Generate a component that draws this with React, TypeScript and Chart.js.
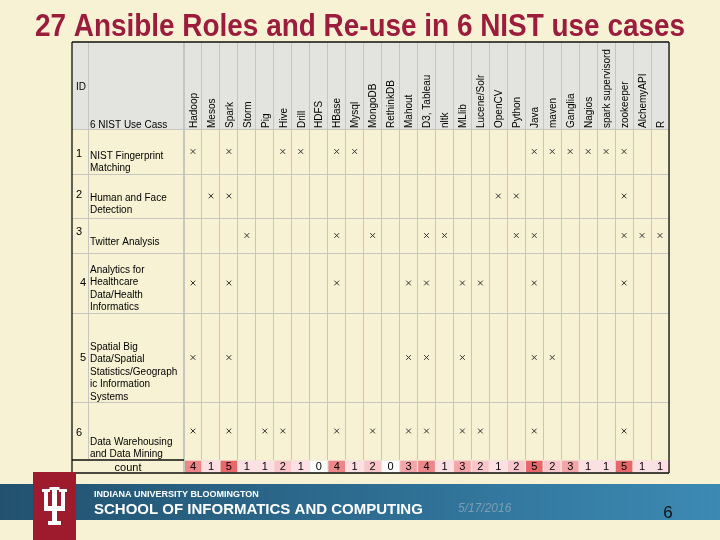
import React, { useEffect, useRef } from 'react';
import { Chart, registerables } from 'chart.js';

Chart.register(...registerables);

// ---------------- data ----------------
const TITLE = '27 Ansible Roles and Re-use in 6 NIST use cases';

const tools = [
  'Hadoop', 'Mesos', 'Spark', 'Storm', 'Pig', 'Hive', 'Drill', 'HDFS', 'HBase',
  'Mysql', 'MongoDB', 'RethinkDB', 'Mahout', 'D3, Tableau', 'nltk', 'MLlib',
  'Lucene/Solr', 'OpenCV', 'Python', 'Java', 'maven', 'Ganglia', 'Nagios',
  'spark supervisord', 'zookeeper', 'AlchemyAPI', 'R',
];

const useCaseIds = ['1', '2', '3', '4', '5', '6'];

const useCaseLines = [
  ['NIST Fingerprint', 'Matching'],
  ['Human and Face', 'Detection'],
  ['Twitter Analysis'],
  ['Analytics for', 'Healthcare', 'Data/Health', 'Informatics'],
  ['Spatial Big', 'Data/Spatial', 'Statistics/Geograph', 'ic Information', 'Systems'],
  ['Data Warehousing', 'and Data Mining'],
];

const uc1Tools = ['Hadoop', 'Spark', 'Hive', 'Drill', 'HBase', 'Mysql', 'Java', 'maven', 'Ganglia', 'Nagios', 'spark supervisord', 'zookeeper'];
const uc2Tools = ['Mesos', 'Spark', 'OpenCV', 'Python', 'zookeeper'];
const uc3Tools = ['Storm', 'HBase', 'MongoDB', 'D3, Tableau', 'nltk', 'Python', 'Java', 'zookeeper', 'AlchemyAPI', 'R'];
const uc4Tools = ['Hadoop', 'Spark', 'HBase', 'Mahout', 'D3, Tableau', 'MLlib', 'Lucene/Solr', 'Java', 'zookeeper'];
const uc5Tools = ['Hadoop', 'Spark', 'Mahout', 'D3, Tableau', 'MLlib', 'Java', 'maven'];
const uc6Tools = ['Hadoop', 'Spark', 'Pig', 'Hive', 'HBase', 'MongoDB', 'Mahout', 'D3, Tableau', 'MLlib', 'Lucene/Solr', 'Java', 'zookeeper'];

const counts = [4, 1, 5, 1, 1, 2, 1, 0, 4, 1, 2, 0, 3, 4, 1, 3, 2, 1, 2, 5, 2, 3, 1, 1, 5, 1, 1];

const headerIdLabel = 'ID';
const headerUseCaseLabel = '6 NIST Use Cass';
const countLabel = 'count';
const footerSmall = 'INDIANA UNIVERSITY BLOOMINGTON';
const footerBig = 'SCHOOL OF INFORMATICS AND COMPUTING';
const footerDate = '5/17/2016';
const slideNumber = '6';

// ---------------- layout & style ----------------
const W = 720;
const H = 540;
const T = { left: 72, top: 42, idRight: 88.5, descLeft: 90, right: 669, bottom: 473 };
const ROW_HEIGHTS = [45, 44, 35, 60, 89, 58, 13]; // y-scale units (6 use-case rows + count row)
const ID_OFFSETS = [25, 21, 14, 30, 45, 31];
const ID_X = [79, 79, 79, 83, 83, 79];
const TEXT_OFFSETS = [27, 24, 24, 17, 34, 40];
const LINE_H = 12.5;

const BG = '#f7f2d3';
const HEADER_BG = '#e3e3df';
const GRID = '#c6c6c0';
const FONT = "'Liberation Sans', Arial, Helvetica, sans-serif";
const COUNT_COLORS = ['#ffffff', '#fde0e3', '#f9c7cb', '#f4a5a9', '#ee8589', '#e8676b'];

const rowEdges: number[] = [0];
ROW_HEIGHTS.forEach((h, i) => rowEdges.push(rowEdges[i] + h));
const Y_MAX = rowEdges[rowEdges.length - 1];
const rowCenter = (i: number) => rowEdges[i] + ROW_HEIGHTS[i] / 2;

const useCaseTools = [uc1Tools, uc2Tools, uc3Tools, uc4Tools, uc5Tools, uc6Tools];

const crisp = (v: number) => Math.round(v - 0.5) + 0.5;

function hLine(ctx: CanvasRenderingContext2D, x1: number, x2: number, y: number) {
  ctx.beginPath();
  ctx.moveTo(x1, crisp(y));
  ctx.lineTo(x2, crisp(y));
  ctx.stroke();
}
function vLine(ctx: CanvasRenderingContext2D, x: number, y1: number, y2: number) {
  ctx.beginPath();
  ctx.moveTo(crisp(x), y1);
  ctx.lineTo(crisp(x), y2);
  ctx.stroke();
}

const tablePlugin = {
  id: 'tableDeco',
  beforeDraw(chart: any) {
    const { ctx, chartArea } = chart;
    const x = chart.scales.x;
    ctx.save();
    ctx.fillStyle = BG;
    ctx.fillRect(0, 0, W, H);
    // header background
    ctx.fillStyle = HEADER_BG;
    ctx.fillRect(T.left, T.top, T.right - T.left, chartArea.top - T.top);
    // header vertical lines
    ctx.strokeStyle = GRID;
    ctx.lineWidth = 1;
    const half = (x.getPixelForValue(1) - x.getPixelForValue(0)) / 2;
    for (let i = 0; i <= tools.length; i++) {
      const px = i < tools.length ? x.getPixelForValue(i) - half : x.getPixelForValue(tools.length - 1) + half;
      vLine(ctx, px, T.top, chartArea.top);
    }
    ctx.restore();
  },
  afterDraw(chart: any) {
    const { ctx, chartArea } = chart;
    const y = chart.scales.y;
    ctx.save();

    // count labels
    const countMeta = chart.getDatasetMeta(0);
    ctx.fillStyle = '#000';
    ctx.font = `11px ${FONT}`;
    ctx.textAlign = 'center';
    ctx.textBaseline = 'middle';
    countMeta.data.forEach((el: any, i: number) => {
      ctx.fillText(String(counts[i]), el.x, (el.y + el.base) / 2 + 0.5);
    });

    // left columns grid
    ctx.strokeStyle = GRID;
    ctx.lineWidth = 1;
    const countTop = y.getPixelForValue(rowEdges[6]);
    vLine(ctx, T.idRight, T.top, countTop);
    vLine(ctx, chartArea.left, T.top, T.bottom);
    for (let i = 0; i < 6; i++) {
      hLine(ctx, T.left, chartArea.left, y.getPixelForValue(rowEdges[i]));
    }

    // left column texts
    ctx.fillStyle = '#000';
    ctx.font = `10px ${FONT}`;
    ctx.textAlign = 'left';
    ctx.textBaseline = 'middle';
    ctx.fillText(headerIdLabel, 76, 87);
    ctx.fillText(headerUseCaseLabel, T.descLeft, 125);
    for (let i = 0; i < 6; i++) {
      const top = y.getPixelForValue(rowEdges[i]);
      ctx.font = `11px ${FONT}`;
      ctx.textAlign = 'center';
      ctx.fillText(useCaseIds[i], ID_X[i], top + ID_OFFSETS[i]);
      ctx.font = `10px ${FONT}`;
      ctx.textAlign = 'left';
      useCaseLines[i].forEach((line, j) => {
        ctx.fillText(line, T.descLeft, top + TEXT_OFFSETS[i] + j * LINE_H);
      });
    }
    ctx.font = `11px ${FONT}`;
    ctx.textAlign = 'center';
    ctx.fillText(countLabel, (T.left + chartArea.left) / 2, (countTop + T.bottom) / 2 + 1);

    // black table borders
    ctx.strokeStyle = '#111';
    ctx.lineWidth = 1.3;
    ctx.beginPath();
    ctx.moveTo(T.left, T.top);
    ctx.lineTo(T.right, T.top);
    ctx.moveTo(T.right, T.top);
    ctx.lineTo(T.right, T.bottom);
    ctx.moveTo(T.left, T.top);
    ctx.lineTo(T.left, T.bottom);
    ctx.moveTo(T.left, T.bottom);
    ctx.lineTo(T.right, T.bottom);
    ctx.moveTo(T.left, countTop);
    ctx.lineTo(chartArea.left, countTop);
    ctx.stroke();

    // footer band
    const g = ctx.createLinearGradient(0, 0, W, 0);
    g.addColorStop(0, '#22526f');
    g.addColorStop(0.5, '#2d6c90');
    g.addColorStop(1, '#3c8ab4');
    ctx.fillStyle = g;
    ctx.fillRect(0, 484, W, 36);

    // IU logo
    ctx.fillStyle = '#9d1b2d';
    ctx.fillRect(33, 472, 43, 68);
    ctx.fillStyle = '#ffffff';
    ctx.fillRect(52, 488, 5, 37);     // centre stem
    ctx.fillRect(49.5, 487, 10, 3);   // centre serif
    ctx.fillRect(44, 490, 4, 20);     // left prong
    ctx.fillRect(42, 489, 8, 3);      // left serif
    ctx.fillRect(61, 490, 4, 20);     // right prong
    ctx.fillRect(59, 489, 8, 3);      // right serif
    ctx.fillRect(44, 506, 21, 5);     // cross bar
    ctx.fillRect(48, 521, 13, 4);     // base serif

    // footer texts
    ctx.textAlign = 'left';
    ctx.textBaseline = 'alphabetic';
    ctx.fillStyle = '#ffffff';
    ctx.font = `bold 9px ${FONT}`;
    ctx.fillText(footerSmall, 94, 497);
    ctx.font = `bold 15px ${FONT}`;
    ctx.fillText(footerBig, 94, 514);
    ctx.font = `italic 12px ${FONT}`;
    ctx.fillStyle = '#7d9db5';
    ctx.fillText(footerDate, 458, 512);
    ctx.fillStyle = '#111';
    ctx.font = `17px ${FONT}`;
    ctx.textAlign = 'center';
    ctx.fillText(slideNumber, 668, 518);

    // title
    ctx.font = `bold 31px 'Liberation Sans Narrow', ${FONT}`;
    ctx.textAlign = 'left';
    ctx.fillStyle = '#9b1c3c';
    const tw = ctx.measureText(TITLE).width;
    ctx.translate(35, 36);
    ctx.scale(650 / tw, 1);
    ctx.fillText(TITLE, 0, 0);

    ctx.restore();
  },
};

export default function App() {
  const ref = useRef<HTMLCanvasElement>(null);

  useEffect(() => {
    if (!ref.current) return;
    Chart.defaults.font.family = FONT;

    const countDataset: any = {
      type: 'bar',
      label: 'count',
      data: counts.map(() => [rowEdges[6], rowEdges[7]]),
      backgroundColor: counts.map((c) => COUNT_COLORS[c]),
      borderColor: '#efe9d6',
      borderWidth: 1,
      borderSkipped: false,
      barPercentage: 1,
      categoryPercentage: 1,
    };

    const markDatasets: any[] = useCaseTools.map((list, i) => ({
      type: 'scatter',
      label: `Use case ${useCaseIds[i]}`,
      data: list.map((t) => ({ x: t, y: rowCenter(i) })),
      pointStyle: 'crossRot',
      pointRadius: 3.3,
      borderColor: '#333333',
      backgroundColor: '#333333',
      borderWidth: 1,
      showLine: false,
    }));

    const chart = new Chart(ref.current, {
      type: 'bar',
      data: {
        labels: tools,
        datasets: [countDataset, ...markDatasets],
      },
      plugins: [tablePlugin],
      options: {
        responsive: false,
        animation: false,
        events: [],
        layout: { padding: { left: 184, right: W - T.right, top: T.top, bottom: H - T.bottom } },
        plugins: {
          legend: { display: false },
          tooltip: { enabled: false },
          title: { display: false },
        },
        scales: {
          x: {
            type: 'category',
            position: 'top',
            offset: true,
            grid: { color: GRID, drawTicks: false, offset: true, lineWidth: 1 },
            border: { display: false },
            ticks: {
              autoSkip: false,
              minRotation: 90,
              maxRotation: 90,
              padding: 1,
              labelOffset: 13,
              color: '#000',
              font: { family: FONT, size: 10 },
            },
            afterFit: (s: any) => {
              s.height = 129 - T.top;
            },
          },
          y: {
            type: 'linear',
            reverse: true,
            min: 0,
            max: Y_MAX,
            grid: { color: GRID, drawTicks: false, lineWidth: 1 },
            border: { display: false },
            ticks: { display: false },
            afterBuildTicks: (s: any) => {
              s.ticks = rowEdges.map((v) => ({ value: v }));
            },
            afterFit: (s: any) => {
              s.width = 0;
            },
          },
        },
      } as any,
    });
    return () => chart.destroy();
  }, []);

  return (
    <div style={{ position: 'absolute', left: 0, top: 0, width: W, height: H }}>
      <canvas ref={ref} width={W} height={H} style={{ display: 'block', width: W, height: H }} />
    </div>
  );
}
